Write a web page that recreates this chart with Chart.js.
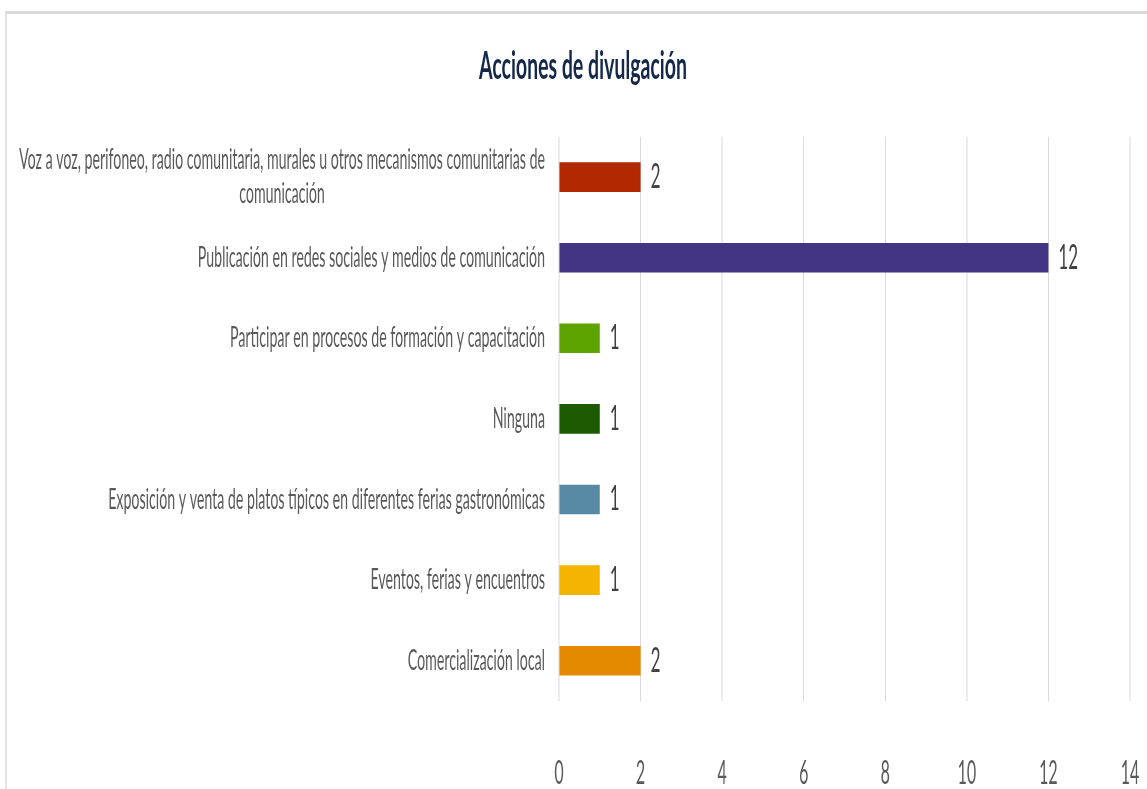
<!DOCTYPE html>
<html>
<head>
<meta charset="utf-8">
<script src="https://cdn.jsdelivr.net/npm/chart.js@4.4.1/dist/chart.umd.min.js"></script>
<style>
  html, body { margin: 0; padding: 0; background: #ffffff; width: 1147px; height: 789px; overflow: hidden; }
  #frame { position: absolute; left: 5px; top: 11px; width: 1142px; height: 778px; border-top: 3px solid #d9d9d9; border-left: 2px solid #e2e2e2; box-sizing: border-box; }
  #wrap { position: absolute; left: 0; top: 0; width: 1147px; height: 395px; transform: scaleY(2); transform-origin: 0 0; }
</style>
</head>
<body>
<div id="frame"></div>
<div id="wrap"><canvas id="c" width="1147" height="395"></canvas></div>
<script>
const titleText = "Acciones de divulgación";
const categories = [
  ["Voz a voz, perifoneo, radio comunitaria, murales u otros mecanismos comunitarias de", "comunicación"],
  "Publicación en redes sociales y medios de comunicación",
  "Participar en procesos de formación y capacitación",
  "Ninguna",
  "Exposición y venta de platos típicos en diferentes ferias gastronómicas",
  "Eventos, ferias y encuentros",
  "Comercialización local"
];
const values = [2, 12, 1, 1, 1, 1, 2];
const barColors = ["#B22800", "#433584", "#5EA400", "#1D5B00", "#5889A4", "#F4B400", "#E58900"];
const xMin = 0, xMax = 14, xStep = 2;

const FONT = "Lato, 'Open Sans', sans-serif";

const labelPlugin = {
  id: "customLabels",
  afterDraw(chart) {
    const ctx = chart.ctx;
    const y = chart.scales.y;
    const rightX = chart.chartArea.left - 14;
    ctx.save();
    ctx.fillStyle = "#595959";
    ctx.font = "14.2px " + FONT;
    ctx.textBaseline = "middle";
    categories.forEach((lab, i) => {
      const cy = y.getPixelForValue(i);
      if (Array.isArray(lab)) {
        const w = Math.max(...lab.map(l => ctx.measureText(l).width));
        const lh = 17;
        const startY = cy - (lab.length - 1) * lh / 2;
        ctx.textAlign = "center";
        lab.forEach((l, j) => ctx.fillText(l, rightX - w / 2, startY + j * lh));
      } else {
        ctx.textAlign = "right";
        ctx.fillText(lab, rightX, cy);
      }
    });
    const meta = chart.getDatasetMeta(0);
    ctx.fillStyle = "#404040";
    ctx.font = "17px " + FONT;
    ctx.textAlign = "left";
    meta.data.forEach((bar, i) => {
      ctx.fillText(String(values[i]), bar.x + 10, bar.y);
    });
    ctx.restore();
  }
};

new Chart(document.getElementById("c"), {
  type: "bar",
  data: {
    labels: categories,
    datasets: [{
      data: values,
      backgroundColor: barColors,
      borderWidth: 0,
      categoryPercentage: 1,
      barPercentage: 0.367
    }]
  },
  options: {
    indexAxis: "y",
    responsive: false,
    animation: false,
    devicePixelRatio: 2,
    layout: { padding: { left: 36, right: 17, top: 0, bottom: 0 } },
    plugins: {
      legend: { display: false },
      tooltip: { enabled: false },
      title: {
        display: true,
        text: titleText,
        color: "#15284A",
        font: { family: FONT, size: 19.5, weight: "bold", lineHeight: 1.2 },
        padding: { top: 21.5, bottom: 23.5 }
      }
    },
    scales: {
      x: {
        min: xMin, max: xMax,
        ticks: { stepSize: xStep, color: "#595959", font: { family: FONT, size: 16, lineHeight: 1.0 }, padding: 28.5, maxRotation: 0 },
        grid: { color: "#d9d9d9", lineWidth: 1, drawTicks: false },
        border: { display: false },
        afterFit(scale) {
          scale.height = 44.5;
          scale.paddingLeft = 0; scale.paddingRight = 0;
          scale.paddingTop = 0; scale.paddingBottom = 0;
        }
      },
      y: {
        ticks: { display: false },
        grid: { display: false },
        border: { display: false },
        afterFit(scale) { scale.width = 523; scale.paddingTop = 0; scale.paddingBottom = 0; }
      }
    }
  },
  plugins: [labelPlugin]
});
</script>
</body>
</html>
